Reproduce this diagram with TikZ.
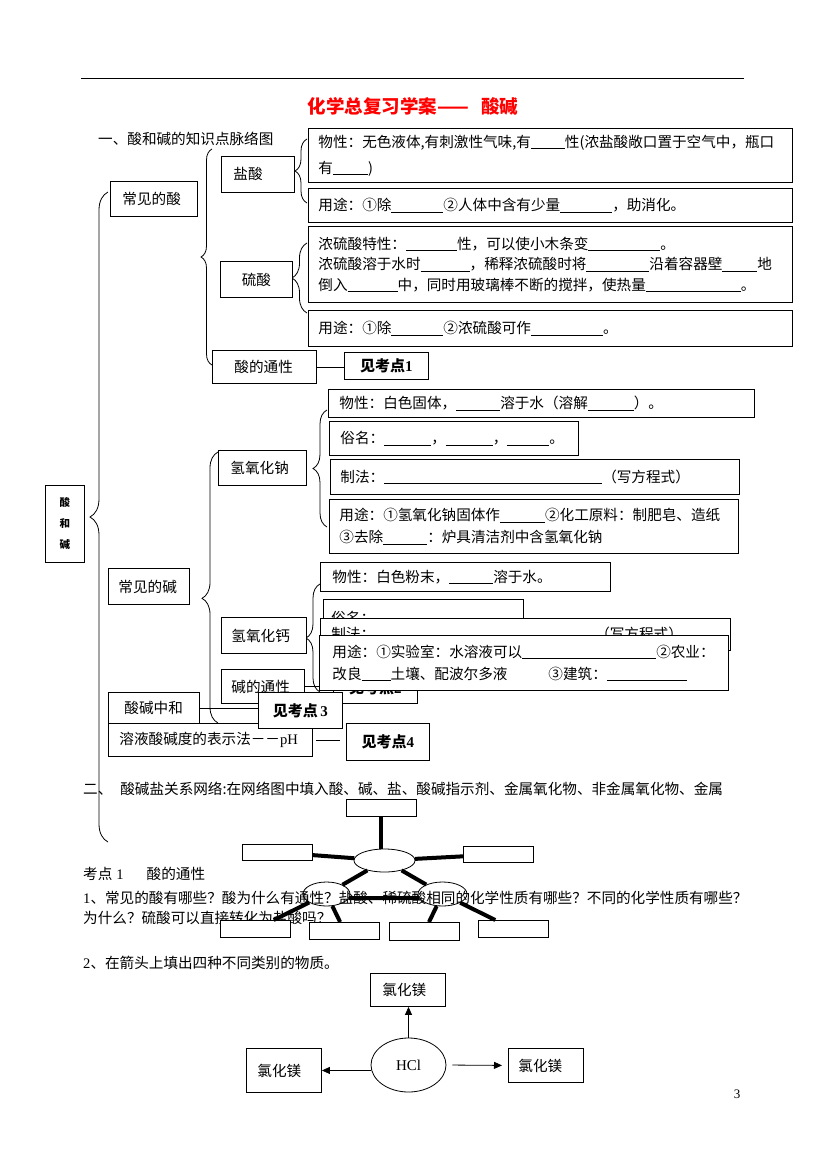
\documentclass[tikz,border=0pt]{standalone}
\usepackage{fontspec}
\setmainfont{Noto Sans CJK SC}
\newfontfamily\lat{Liberation Serif}
\usetikzlibrary{arrows.meta}
\usetikzlibrary{decorations.pathreplacing}
\usetikzlibrary{shapes.geometric}
\tikzset{box/.style = {draw, fill = white, line width = 0.9pt, anchor = north west, inner xsep = 10pt, inner ysep = 0pt, align = left}}
\tikzset{kd/.style = {box, align = center, inner xsep = 0pt, font = \fontsize{15}{18}\selectfont\bfseries}}
\tikzset{curly/.style = {decorate, decoration = {brace, amplitude = #1pt}, line width = 0.8pt}}
\tikzset{bond/.style = {line width = 4pt}}
\tikzset{oval/.style = {draw, ellipse, inner sep = 0, line width = 0.8pt}}
\tikzset{arr/.style = {line width = 0.8pt, -{Triangle[length = 8pt, width = 7pt]}}}
\newcommand{\blank}[1]{\underline{\hspace{#1pt}}}

\begin{document}
\begin{tikzpicture}[x = 1pt, y = -1pt, font = \fontsize{14.6}{21}\selectfont]
    \useasboundingbox (0, 0) rectangle (827, 1170);
    \draw [line width = 0.9pt] (81, 78) -- (744, 78);
    \node [red, font = \fontsize{18.5}{20}\selectfont\bfseries] (title) at (413, 106) {化学总复习学案——\hspace{12pt}酸碱};
    \node [anchor = west, inner sep = 0] (part1) at (98, 139) {一、酸和碱的知识点脉络图};

    % braces
    \draw [curly = 18] (108, 842) -- (108, 192);
    \draw [curly = 11] (212, 365) -- (212, 149);
    \draw [curly = 12] (307, 203) -- (307, 139);
    \draw [curly = 15] (307, 313) -- (307, 243);
    \draw [curly = 16, decoration = {aspect = 0.46}] (218, 723) -- (218, 452);
    \draw [curly = 14] (327, 527) -- (327, 410);
    \draw [curly = 14] (320, 692) -- (320, 584);

    \node [box, align = center, inner xsep = 0pt, minimum width = 39pt, minimum height = 77pt, font = \fontsize{10.5}{21}\selectfont\bfseries] (acidbase) at (45, 485) {酸\\和\\碱};

    % acids
    \node [box, inner xsep = 12pt, text width = 63pt, minimum height = 35pt] (acids) at (110, 181) {常见的酸};
    \node [box, inner xsep = 12pt, text width = 49pt, minimum height = 36pt] (hcl) at (221, 156) {盐酸};
    \node [box, inner xsep = 0pt, text width = 72pt, minimum height = 36pt, align = center] (sulf) at (220, 261) {硫酸};
    \node [box, text width = 464pt, minimum height = 54pt, font = \fontsize{14.6}{26}\selectfont] (hclprop) at (308, 128) {物性：无色液体,有刺激性气味,有\blank{34}性(浓盐酸敞口置于空气中，瓶口\\有\blank{35})};
    \node [box, text width = 464pt, minimum height = 34pt] (hcluse) at (308, 188) {用途：①除\blank{52}②人体中含有少量\blank{52}，助消化。};
    \node [box, text width = 464pt, minimum height = 76pt, font = \fontsize{14.6}{20.5}\selectfont] (sulfprop) at (308, 226) {浓硫酸特性：\blank{51}性，可以使小木条变\blank{72}。\\浓硫酸溶于水时\blank{49}，稀释浓硫酸时将\blank{63}沿着容器壁\blank{35}地\\倒入\blank{50}中，同时用玻璃棒不断的搅拌，使热量\blank{95}。};
    \node [box, text width = 464pt, minimum height = 36pt] (sulfuse) at (308, 310) {用途：①除\blank{52}②浓硫酸可作\blank{72}。};
    \node [box, inner xsep = 22pt, text width = 60pt, minimum height = 33pt] (acidgen) at (212, 350) {酸的通性};
    \node [kd, minimum width = 84pt, minimum height = 27pt] (kd1) at (344, 352) {见考点{\lat 1}};
    \draw [line width = 0.9pt] (acidgen.east) -- (acidgen.east -| kd1.west);

    % bases
    \node [box, text width = 61pt, minimum height = 36pt] (bases) at (108, 568) {常见的碱};
    \node [box, inner xsep = 12pt, text width = 64pt, minimum height = 35pt] (naoh) at (218, 450) {氢氧化钠};
    \node [box, inner xsep = 11pt, text width = 404pt, minimum height = 28pt] (naohprop) at (328, 389) {物性：白色固体，\blank{44}溶于水（溶解\blank{46}）。};
    \node [box, inner xsep = 11pt, text width = 227pt, minimum height = 34pt] (naohname) at (329, 421) {俗名：\blank{47}，\blank{47}，\blank{42}。};
    \node [box, text width = 389pt, minimum height = 35pt] (naohmake) at (330, 459) {制法：\blank{218}（写方程式）};
    \node [box, text width = 389pt, minimum height = 54pt, font = \fontsize{14.6}{22}\selectfont] (naohuse) at (329, 499) {用途：①氢氧化钠固体作\blank{45}②化工原料：制肥皂、造纸\\③去除\blank{44}：炉具清洁剂中含氢氧化钠};
    \node [box, text width = 65pt, minimum height = 36pt] (caoh) at (221, 617) {氢氧化钙};
    \node [box, inner xsep = 12pt, text width = 266pt, minimum height = 29pt] (caohprop) at (320, 562) {物性：白色粉末，\blank{44}溶于水。};
    \node [box, inner xsep = 8pt, text width = 184pt, minimum height = 36pt] (caohname) at (323, 599) {俗名：};
    \node [box, inner xsep = 11pt, text width = 388pt, minimum height = 32pt] (caohmake) at (320, 618) {制法：\blank{220}（写方程式）};
    \node [box, text width = 63pt, minimum height = 34pt] (basegen) at (221, 669) {碱的通性};
    \node [kd, minimum width = 84pt, minimum height = 31pt] (kd2) at (333, 672) {见考点{\lat 2}};
    \draw [line width = 0.9pt] (basegen.east) -- (basegen.east -| kd2.west);
    \node [box, inner xsep = 13pt, text width = 383pt, minimum height = 55pt, font = \fontsize{14.6}{22}\selectfont] (caohuse) at (319, 635) {用途：①实验室：水溶液可以\blank{134}②农业：\\改良\blank{29}土壤、配波尔多液\hspace{41pt}③建筑：\blank{80}};

    \node [box, inner xsep = 16pt, text width = 59pt, minimum height = 31pt] (neut) at (108, 692) {酸碱中和};
    \node [box, inner xsep = 11pt, text width = 182pt, minimum height = 33pt] (ph) at (108, 723) {溶液酸碱度的表示法－－{\lat pH}};
    \node [kd, minimum width = 84pt, minimum height = 36pt] (kd3) at (258, 692) {见考点{\lat\,3}};
    \draw [line width = 0.9pt] (neut.east) -- (neut.east -| kd3.west);
    \node [kd, minimum width = 83pt, minimum height = 37pt] (kd4) at (346, 723) {见考点{\lat 4}};
    \draw [line width = 0.9pt, shorten <= 3pt, shorten >= 6pt] (ph.east) -- (ph.east -| kd4.west);

    % part two
    \node [anchor = west, inner sep = 0] (part2) at (83, 789) {二、\hspace{8pt}酸碱盐关系网络:在网络图中填入酸、碱、盐、酸碱指示剂、金属氧化物、非金属氧化物、金属};
    \node [anchor = west, inner sep = 0] (kp1) at (83, 874) {考点\hspace{4pt}{\lat 1}\hspace{23pt}酸的通性};
    \node [anchor = west, inner sep = 0] (q1a) at (83, 898) {{\lat 1}、常见的酸有哪些？酸为什么有通性？盐酸、稀硫酸相同的化学性质有哪些？不同的化学性质有哪些？};
    \node [anchor = west, inner sep = 0] (q1b) at (83, 918) {为什么？硫酸可以直接转化为盐酸吗？};
    \node [anchor = west, inner sep = 0] (q2) at (83, 963) {{\lat 2}、在箭头上填出四种不同类别的物质。};

    \node [oval, minimum width = 61pt, minimum height = 23pt] (hub) at (384.5, 860.5) {};
    \node [oval, minimum width = 47pt, minimum height = 24pt] (hubl) at (326.5, 894) {};
    \node [oval, minimum width = 49pt, minimum height = 24pt] (hubr) at (442.5, 894) {};
    \node [box, minimum width = 70pt, minimum height = 17pt] (slott) at (346, 799) {};
    \node [box, minimum width = 70pt, minimum height = 16pt] (slotl) at (242, 844) {};
    \node [box, minimum width = 70pt, minimum height = 16pt] (slotr) at (463, 846) {};
    \node [box, minimum width = 70pt, minimum height = 17pt] (slot1) at (220, 920) {};
    \node [box, minimum width = 70pt, minimum height = 17pt] (slot2) at (309, 922) {};
    \node [box, minimum width = 70pt, minimum height = 18pt] (slot3) at (389, 922) {};
    \node [box, minimum width = 70pt, minimum height = 17pt] (slot4) at (478, 920) {};
    \draw [bond] (slott.south) -- (slott.south |- hub.north);
    \draw [bond] (hub) -- (slotl);
    \draw [bond] (hub) -- (slotr);
    \draw [bond] (hub) -- (hubl);
    \draw [bond] (hub) -- (hubr);
    \draw [bond] (hubl.-10) -- (hubr.190);
    \draw [bond] (hubl) -- (slot1);
    \draw [bond] (hubl) -- (slot2);
    \draw [bond] (hubr) -- (slot3);
    \draw [bond] (hubr) -- (slot4);

    % arrows round HCl
    \node [box, inner xsep = 12pt, text width = 51pt, minimum height = 33pt] (mgtop) at (370, 973) {氯化镁};
    \node [box, inner xsep = 11pt, text width = 53pt, minimum height = 44pt] (mgleft) at (246, 1048) {氯化镁};
    \node [box, text width = 55pt, minimum height = 34pt] (mgright) at (508, 1048) {氯化镁};
    \node [oval, minimum width = 75pt, minimum height = 54pt, font = \lat\fontsize{15}{18}\selectfont] (acid) at (408.5, 1065) {HCl};
    \draw [arr] (acid.north) -- (acid.north |- mgtop.south);
    \draw [arr] (mgleft.east -| acid.west) -- (mgleft.east);
    \draw [arr, shorten <= 6pt, shorten >= 6pt] (acid.east) -- (mgright.west);

    \node [font = \lat\fontsize{13}{15}\selectfont] (page) at (737, 1094) {3};
\end{tikzpicture}
\end{document}
